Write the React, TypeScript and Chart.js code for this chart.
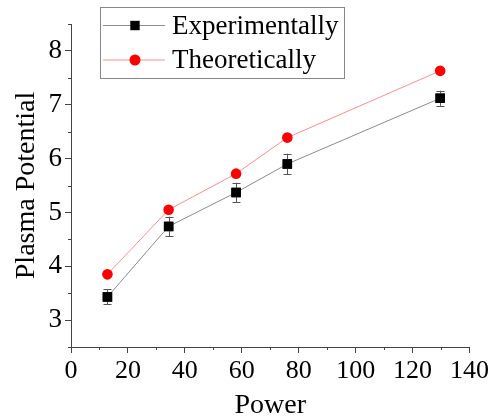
import React, { useEffect, useRef } from "react";
import { Chart, registerables } from "chart.js";

Chart.register(...registerables);

const power = [12.8, 34.3, 58, 76, 129.7];
const experimental = [3.43, 4.74, 5.37, 5.9, 7.12];
const experimentalErr = [0.14, 0.18, 0.18, 0.19, 0.14];
const theoretical = [3.85, 5.05, 5.72, 6.39, 7.63];
const seriesNames = ["Experimentally", "Theoretically"];
const xTitle = "Power";
const yTitle = "Plasma Potential";

const FONT = "'Liberation Serif', 'Times New Roman', serif";

const errorBarPlugin = {
  id: "errorBars",
  afterDatasetsDraw(chart: any) {
    const { ctx, scales } = chart;
    const meta = chart.getDatasetMeta(0);
    ctx.save();
    ctx.strokeStyle = "#555";
    ctx.lineWidth = 1;
    meta.data.forEach((pt: any, i: number) => {
      const x = Math.round(pt.x) + 0.5;
      const yTop = scales.y.getPixelForValue(experimental[i] + experimentalErr[i]);
      const yBot = scales.y.getPixelForValue(experimental[i] - experimentalErr[i]);
      ctx.beginPath();
      ctx.moveTo(x, yTop);
      ctx.lineTo(x, yBot);
      ctx.moveTo(x - 4, Math.round(yTop) + 0.5);
      ctx.lineTo(x + 4, Math.round(yTop) + 0.5);
      ctx.moveTo(x - 4, Math.round(yBot) + 0.5);
      ctx.lineTo(x + 4, Math.round(yBot) + 0.5);
      ctx.stroke();
    });
    meta.data.forEach((pt: any) => pt.draw(ctx, chart.chartArea));
    ctx.restore();
  },
};

const minorTickPlugin = {
  id: "minorTicks",
  afterDraw(chart: any) {
    const { ctx, scales, chartArea } = chart;
    ctx.save();
    ctx.strokeStyle = "#444";
    ctx.lineWidth = 1;
    ctx.beginPath();
    scales.y.ticks.forEach((t: any) => {
      if (Number.isInteger(t.value)) return;
      const y = Math.round(scales.y.getPixelForValue(t.value)) + 0.5;
      ctx.moveTo(chartArea.left - 3, y);
      ctx.lineTo(chartArea.left, y);
    });
    scales.x.ticks.forEach((t: any) => {
      if (t.value % 20 === 0) return;
      const x = Math.round(scales.x.getPixelForValue(t.value)) + 0.5;
      ctx.moveTo(x, chartArea.bottom);
      ctx.lineTo(x, chartArea.bottom + 3);
    });
    ctx.stroke();
    ctx.restore();
  },
};

const legendBoxPlugin = {
  id: "legendBox",
  afterDraw(chart: any) {
    const { ctx, chartArea } = chart;
    const left = chartArea.left + 29;
    const top = 7.5;
    const w = 244;
    const h = 71;
    ctx.save();
    ctx.fillStyle = "#fff";
    ctx.fillRect(left, top, w, h);
    ctx.strokeStyle = "#888";
    ctx.lineWidth = 1;
    ctx.strokeRect(Math.round(left) + 0.5, top, w, h);
    chart.data.datasets.forEach((ds: any, i: number) => {
      const cy = top + 18 + i * 34.5;
      ctx.strokeStyle = ds.borderColor;
      ctx.lineWidth = 1;
      ctx.beginPath();
      ctx.moveTo(left + 3, cy);
      ctx.lineTo(left + 65, cy);
      ctx.stroke();
      ctx.fillStyle = ds.pointBackgroundColor;
      if (ds.pointStyle === "rect") {
        ctx.fillRect(left + 35 - 4.7, cy - 4.7, 9.4, 9.4);
      } else {
        ctx.beginPath();
        ctx.arc(left + 35, cy, 5.5, 0, Math.PI * 2);
        ctx.fill();
      }
      ctx.fillStyle = "#000";
      ctx.font = `27px ${FONT}`;
      ctx.textBaseline = "middle";
      ctx.textAlign = "left";
      ctx.fillText(ds.label, left + 72, cy + 1);
    });
    ctx.restore();
  },
};

export default function App() {
  const ref = useRef<HTMLCanvasElement | null>(null);
  useEffect(() => {
    if (!ref.current) return;
    const chart = new Chart(ref.current, {
      type: "scatter",
      data: {
        datasets: [
          {
            label: seriesNames[0],
            data: power.map((x, i) => ({ x, y: experimental[i] })),
            showLine: true,
            borderColor: "#8c8c8c",
            borderWidth: 1,
            pointStyle: "rect",
            pointRadius: 6.7,
            pointBackgroundColor: "#000",
            pointBorderColor: "#000",
            pointBorderWidth: 0,
          },
          {
            label: seriesNames[1],
            data: power.map((x, i) => ({ x, y: theoretical[i] })),
            showLine: true,
            borderColor: "#ff8c8c",
            borderWidth: 1,
            pointStyle: "circle",
            pointRadius: 5.3,
            pointBackgroundColor: "#ff0000",
            pointBorderColor: "#ff0000",
            pointBorderWidth: 0,
          },
        ],
      },
      options: {
        responsive: false,
        animation: false,
        devicePixelRatio: 1,
        layout: { padding: { top: 24, right: 20, left: 0, bottom: 0 } },
        plugins: { legend: { display: false }, tooltip: { enabled: false } },
        scales: {
          x: {
            type: "linear",
            min: 0,
            max: 140,
            afterFit: (s: any) => {
              s.height = 70;
            },
            ticks: {
              stepSize: 10,
              autoSkip: false,
              maxRotation: 0,
              padding: 3,
              color: "#000",
              font: { family: FONT, size: 26 },
              callback: (v: any) => (v % 20 === 0 ? String(v) : ""),
            },
            grid: {
              drawOnChartArea: false,
              tickLength: 6,
              tickColor: (c: any) => (c.tick && c.tick.value % 20 === 0 ? "#444" : "rgba(0,0,0,0)"),
            },
            border: { color: "#444", width: 1 },
            title: {
              display: true,
              text: xTitle,
              color: "#000",
              font: { family: FONT, size: 28 },
              padding: { top: 0, bottom: -5 },
            },
          },
          y: {
            min: 2.5,
            max: 8.5,
            afterFit: (s: any) => {
              s.width = 71;
            },
            ticks: {
              stepSize: 0.5,
              autoSkip: false,
              padding: 3,
              color: "#000",
              font: { family: FONT, size: 27 },
              callback: (v: any) => (Number.isInteger(v) ? String(v) : ""),
            },
            grid: {
              drawOnChartArea: false,
              tickLength: 6,
              tickColor: (c: any) => (c.tick && Number.isInteger(c.tick.value) ? "#444" : "rgba(0,0,0,0)"),
            },
            border: { color: "#444", width: 1 },
            title: {
              display: true,
              text: yTitle,
              color: "#000",
              font: { family: FONT, size: 28 },
              padding: { top: 10, bottom: 0 },
            },
          },
        },
      },
      plugins: [errorBarPlugin, minorTickPlugin, legendBoxPlugin],
    } as any);
    return () => chart.destroy();
  }, []);
  return (
    <div style={{ position: "fixed", left: 0, top: 0, width: 492, height: 417, background: "#fff" }}>
      <canvas ref={ref} width={492} height={417} style={{ display: "block" }} />
    </div>
  );
}
